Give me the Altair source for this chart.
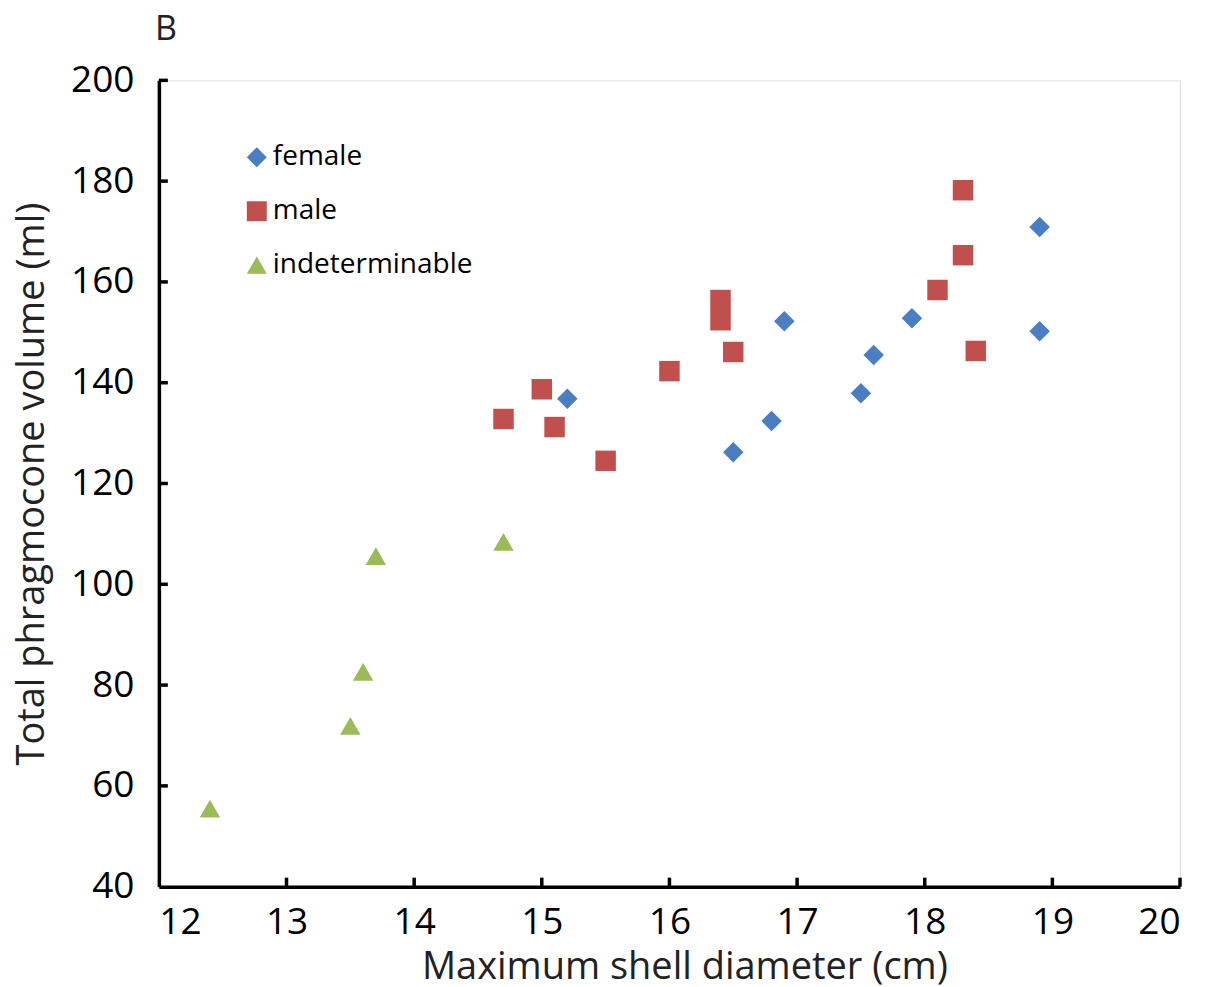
import altair as alt
import pandas as pd

# --- data ---
female_x = [15.2, 16.5, 16.8, 16.9, 17.5, 17.6, 17.9, 18.9, 18.9]
female_y = [136.8, 126.2, 132.4, 152.2, 137.9, 145.5, 152.8, 170.9, 150.2]

male_x = [14.7, 15.0, 15.1, 15.5, 16.0, 16.4, 16.4, 16.5, 18.1, 18.3, 18.3, 18.4]
male_y = [132.8, 138.7, 131.2, 124.5, 142.3, 156.4, 152.4, 146.1, 158.4, 178.2, 165.3, 146.3]

indet_x = [12.4, 13.5, 13.6, 13.7, 14.7]
indet_y = [55.5, 71.9, 82.6, 105.6, 108.4]

groups = ["female", "male", "indeterminable"]
colors = ["#4A7EC3", "#C0504D", "#9BBB59"]
shapes = ["diamond", "square", "triangle-up"]

x_ticks = [12, 13, 14, 15, 16, 17, 18, 19, 20]
y_ticks = [40, 60, 80, 100, 120, 140, 160, 180, 200]
panel_label = ["B"]

rows = []
for g, xs, ys in [("female", female_x, female_y), ("male", male_x, male_y),
                  ("indeterminable", indet_x, indet_y)]:
    for a, b in zip(xs, ys):
        rows.append({"x": a, "y": b, "group": g})
df = pd.DataFrame(rows)

W, H = 1022, 807
FONT = "Open Sans"

xscale = alt.Scale(domain=[12, 20], nice=False, zero=False)
yscale = alt.Scale(domain=[40, 200], nice=False, zero=False)

points = alt.Chart(df).mark_point(filled=True, opacity=1, size=420, strokeWidth=0).encode(
    x=alt.X("x:Q", scale=xscale,
            axis=alt.Axis(title="Maximum shell diameter (cm)", values=x_ticks, format="d",
                          ticks=False, grid=False, domainColor="black", domainWidth=3.5,
                          labelFontSize=37, labelFont=FONT, labelColor="black", labelPadding=18,
                          titleFontSize=38, titleFont=FONT, titleColor="#222222",
                          titleFontWeight="normal", titlePadding=8, titleX=W / 2 + 15)),
    y=alt.Y("y:Q", scale=yscale,
            axis=alt.Axis(title="Total phragmocone volume (ml)", values=y_ticks, format="d",
                          ticks=False, grid=False, domainColor="black", domainWidth=3.5,
                          labelFontSize=37, labelFont=FONT, labelColor="black", labelPadding=25,
                          titleFontSize=38, titleFont=FONT, titleColor="#222222",
                          titleFontWeight="normal", titlePadding=19)),
    color=alt.Color("group:N", scale=alt.Scale(domain=groups, range=colors),
                    legend=alt.Legend(title=None, orient="none", legendX=84, legendY=63,
                                      labelFontSize=28, labelFont=FONT, labelColor="black",
                                      labelLimit=0,
                                      symbolSize=400, rowPadding=26, labelOffset=2,
                                      padding=0, symbolStrokeWidth=0)),
    shape=alt.Shape("group:N", scale=alt.Scale(domain=groups, range=shapes), legend=None),
)

xt = pd.DataFrame({"v": x_ticks[1:]})
yt = pd.DataFrame({"v": y_ticks[1:]})

xtick_marks = alt.Chart(xt).mark_rule(color="black", strokeWidth=3.5).encode(
    x=alt.X("v:Q", scale=xscale),
    y=alt.value(H), y2=alt.value(H - 9),
)
ytick_marks = alt.Chart(yt).mark_rule(color="black", strokeWidth=3.5).encode(
    y=alt.Y("v:Q", scale=yscale),
    x=alt.value(0), x2=alt.value(9),
)

label_b = alt.Chart(pd.DataFrame({"t": panel_label})).mark_text(
    fontSize=34, font=FONT, color="#222222", align="center", baseline="alphabetic"
).encode(text="t:N", x=alt.value(7), y=alt.value(-40))

chart = alt.layer(points, xtick_marks, ytick_marks, label_b).properties(
    width=W, height=H,
    autosize=alt.AutoSizeParams(type="none"),
    padding={"left": 151, "top": 72, "right": 20, "bottom": 100},
).configure_view(stroke=None).configure(background="white")

chart.save("out.html", embed_options={"renderer": "svg", "actions": False})
